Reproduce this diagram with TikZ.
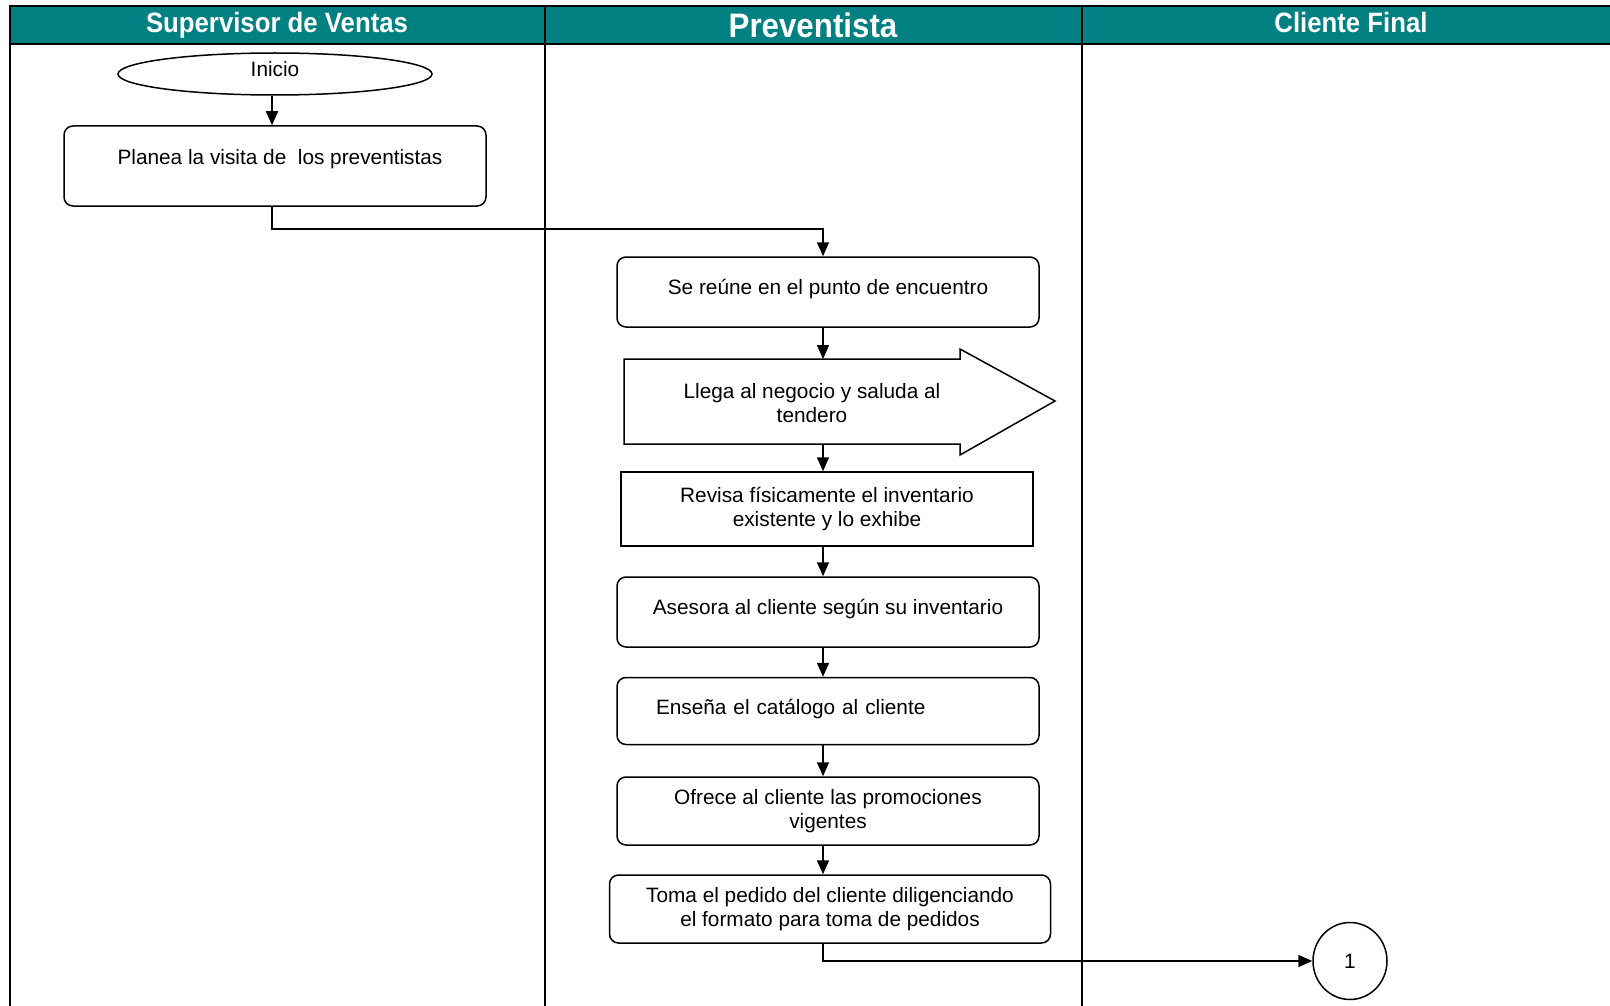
\documentclass[tikz,border=0pt]{standalone}
\usepackage{fontspec}
\setmainfont{Liberation Sans}
\newfontfamily\cabecera[FakeStretch=0.92]{Liberation Sans}
\usetikzlibrary{arrows.meta,shapes.geometric}
\definecolor{verdeazul}{RGB}{0,128,128}
\newcommand{\cuerpo}{\fontsize{20.8}{24}\selectfont}

\begin{document}
\begin{tikzpicture}[x=1pt,y=-1pt,
  carril/.style={line width=2pt},
  titulo/.style={text=white,font=\cabecera\bfseries\fontsize{28}{30}\selectfont},
  proceso/.style={draw,rounded corners=9pt,line width=1.5pt,minimum width=422pt,
    minimum height=70pt,align=center,font=\cuerpo},
  flecha/.style={line width=1.5pt,-{Triangle[length=14pt,width=12pt]}}]
\useasboundingbox (0,0) rectangle (1610,1006);

% carriles
\fill [verdeazul] (10,6) rectangle (1610,44);
\draw [carril] (10,1006) -- (10,6) -- (1610,6);
\draw [carril] (10,44) -- (1610,44);
\draw [carril] (545,6) -- (545,1006);
\draw [carril] (1082,6) -- (1082,1006);
\node [titulo] (supervisor) at (277,25) {Supervisor de Ventas};
\node [titulo,font=\cabecera\bfseries\fontsize{34}{36}\selectfont] (preventista) at (813,25) {Preventista};
\node [titulo] (cliente) at (1351,22) {Cliente Final};

% nodos
\node [draw,ellipse,line width=1.5pt,minimum width=314pt,minimum height=42pt,inner sep=0pt,text depth=10pt,font=\cuerpo] (inicio) at (275,74) {Inicio};
\node [proceso,minimum height=80pt,text depth=18pt] (planea) at (275,166) {\hspace*{10pt}Planea la visita de~ los preventistas};
\node [proceso,text depth=11pt] (sereune) at (828,292) {Se reúne en el punto de encuentro};
\node [font=\cuerpo,align=center] (llega) at (812,403) {Llega al negocio y saluda al\\tendero};
\draw [line width=1.5pt] (624,359) -- (960,359) -- (960,349) -- (1055,401) -- (960,455) -- (960,444) -- (624,444) -- cycle;
\coordinate (llegaN) at (823,359);
\coordinate (llegaS) at (823,444);
\node [proceso,rounded corners=0pt,minimum width=412pt,minimum height=74pt] (revisa) at (827,509) {Revisa físicamente el inventario\\existente y lo exhibe};
\node [proceso,text depth=10pt] (asesora) at (828,612) {Asesora al cliente según su inventario};
\node [proceso,minimum height=67pt,text depth=9pt,text width=344pt,align=left] (ensena) at (828,711) {Enseña el catálogo al cliente};
\node [proceso,minimum height=68pt] (ofrece) at (828,811) {Ofrece al cliente las promociones\\vigentes};
\node [proceso,minimum width=441pt,minimum height=68pt] (toma) at (830,909) {Toma el pedido del cliente diligenciando\\el formato para toma de pedidos};
\node [draw,ellipse,line width=1.5pt,minimum width=74pt,minimum height=77pt,inner sep=0pt,font=\cuerpo] (uno) at (1350,961) {1};

% conectores
\coordinate (ejeA) at (272,0);
\coordinate (ejeB) at (823,0);
\draw [flecha] (inicio.south -| ejeA) -- (planea.north -| ejeA);
\draw [flecha] (planea.south -| ejeA) -- ++(0,22) -| (sereune.north -| ejeB);
\draw [flecha] (sereune.south -| ejeB) -- (llegaN);
\draw [flecha] (llegaS) -- (revisa.north -| ejeB);
\draw [flecha] (revisa.south -| ejeB) -- (asesora.north -| ejeB);
\draw [flecha] (asesora.south -| ejeB) -- (ensena.north -| ejeB);
\draw [flecha] (ensena.south -| ejeB) -- (ofrece.north -| ejeB);
\draw [flecha] (ofrece.south -| ejeB) -- (toma.north -| ejeB);
\draw [flecha] (toma.south -| ejeB) |- (uno.west);
\end{tikzpicture}
\end{document}
